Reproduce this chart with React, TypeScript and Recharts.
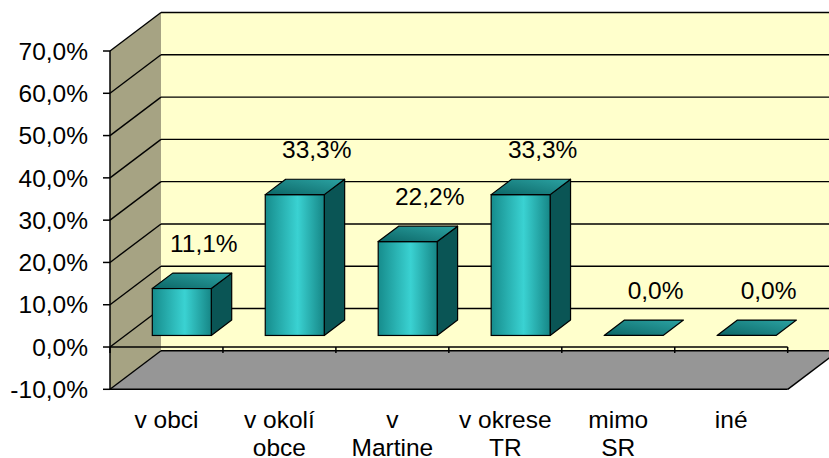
import React from "react";
import {
  ComposedChart,
  Bar,
  XAxis,
  YAxis,
  CartesianGrid,
  ReferenceArea,
  ReferenceLine,
  LabelList,
} from "recharts";

const categories = ["v obci", "v okolí\nobce", "v\nMartine", "v okrese\nTR", "mimo\nSR", "iné"];
const shares = [11.1, 33.3, 22.2, 33.3, 0.0, 0.0];
const yTicks = [-10, 0, 10, 20, 30, 40, 50, 60, 70];

const data = categories.map((name, i) => ({ name, share: shares[i] }));

const FONT = '"Liberation Sans", Arial, sans-serif';
const BACK_WALL = "#FFFFCC";
const SIDE_WALL = "#A6A383";
const FLOOR = "#969696";
const SIDE_FACE = "#0A5555";

// 3D depth vector (front plane -> back wall)
const DX = 51;
const DY = -38.5;
const BAR_OFFSET = 0.3;
const BAR_DEPTH = 0.4;

const fmt = (v: number) => `${v.toFixed(1).replace(".", ",")}%`;

function Walls(props: any) {
  const { x, y, width, height } = props;
  const L = x;
  const T = y;
  const R = x + width;
  const B = y + height;
  return (
    <g>
      <defs>
        <linearGradient id="frontGrad" x1="0" y1="0" x2="1" y2="0">
          <stop offset="0%" stopColor="#168C8C" />
          <stop offset="55%" stopColor="#3AD2D2" />
          <stop offset="100%" stopColor="#168686" />
        </linearGradient>
        <linearGradient id="topGrad" x1="0" y1="1" x2="1" y2="0">
          <stop offset="0%" stopColor="#0C6666" />
          <stop offset="100%" stopColor="#2BA3A3" />
        </linearGradient>
      </defs>
      <rect x={L + DX} y={T + DY} width={width} height={height} fill={BACK_WALL} />
      <polygon
        points={`${L},${T} ${L + DX},${T + DY} ${L + DX},${B + DY} ${L},${B}`}
        fill={SIDE_WALL}
      />
      <polygon
        points={`${L},${B} ${L + DX},${B + DY} ${R + DX},${B + DY} ${R},${B}`}
        fill={FLOOR}
      />
      <line x1={L} y1={B} x2={R} y2={B} stroke="#000" strokeWidth={1.5} />
      <line x1={R} y1={B} x2={R + DX} y2={B + DY} stroke="#000" strokeWidth={1.5} />
    </g>
  );
}

function GridLine(props: any) {
  const { x1, x2, y1 } = props;
  return (
    <g>
      <line x1={x1 + DX} y1={y1 + DY} x2={x2 + DX} y2={y1 + DY} stroke="#000" strokeWidth={1.4} />
      <line x1={x1} y1={y1} x2={x1 + DX} y2={y1 + DY} stroke="#000" strokeWidth={1.4} />
    </g>
  );
}

function CategoryAxisLine(props: any) {
  const { x1, x2, y1 } = props;
  const band = (x2 - x1) / categories.length;
  return (
    <g>
      <line x1={x1} y1={y1} x2={x2} y2={y1} stroke="#000" strokeWidth={1.5} />
      {categories.map((_, i) => (
        <line
          key={i}
          x1={x1 + (i + 1) * band}
          y1={y1}
          x2={x1 + (i + 1) * band}
          y2={y1 + 6}
          stroke="#000"
          strokeWidth={1.5}
        />
      ))}
      <line x1={x1} y1={y1} x2={x1} y2={y1 + 6} stroke="#000" strokeWidth={1.5} />
    </g>
  );
}

function Box3D(props: any) {
  const { x, y, width, height } = props;
  const ox = x + DX * BAR_OFFSET;
  const oy = y + DY * BAR_OFFSET;
  const dx = DX * BAR_DEPTH;
  const dy = DY * BAR_DEPTH;
  const h = Math.max(0, height);
  const top = `${ox},${oy} ${ox + width},${oy} ${ox + width + dx},${oy + dy} ${ox + dx},${oy + dy}`;
  const side = `${ox + width},${oy} ${ox + width + dx},${oy + dy} ${ox + width + dx},${oy + dy + h} ${ox + width},${oy + h}`;
  return (
    <g>
      {h > 0 && (
        <>
          <polygon points={side} fill={SIDE_FACE} stroke="#000" strokeWidth={1.2} strokeLinejoin="round" />
          <rect x={ox} y={oy} width={width} height={h} fill="url(#frontGrad)" stroke="#000" strokeWidth={1.2} />
        </>
      )}
      <polygon points={top} fill="url(#topGrad)" stroke="#000" strokeWidth={1.2} strokeLinejoin="round" />
    </g>
  );
}

function ValueLabel(props: any) {
  const { x, y, width, value } = props;
  const cx = x + DX * BAR_OFFSET + width / 2 + 22;
  const baseline = y + DY * (BAR_OFFSET + BAR_DEPTH) - 21;
  return (
    <text x={cx} y={baseline} textAnchor="middle" fontSize={24.5} fontFamily={FONT} fill="#000">
      {fmt(Number(value))}
    </text>
  );
}

function CategoryTick(props: any) {
  const { x, y, payload } = props;
  const lines = String(payload.value).split("\n");
  return (
    <text x={x} y={y + 38.5} textAnchor="middle" fontSize={24.5} fontFamily={FONT} fill="#000">
      {lines.map((ln, i) => (
        <tspan key={i} x={x} dy={i === 0 ? 0 : 28}>
          {ln}
        </tspan>
      ))}
    </text>
  );
}

export default function App() {
  return (
    <div style={{ position: "absolute", left: 0, top: 0, width: 829, height: 458, background: "#fff" }}>
      <ComposedChart
        width={829}
        height={458}
        data={data}
        margin={{ top: 51, right: 41.3, bottom: 8.7, left: 10 }}
      >
        <ReferenceArea y1={-10} y2={70} shape={Walls} zIndex={-200} ifOverflow="visible" />
        <CartesianGrid vertical={false} horizontal={GridLine} />
        <XAxis
          dataKey="name"
          height={60}
          axisLine={false}
          tickLine={false}
          tickSize={0}
          tickMargin={0}
          interval={0}
          tick={CategoryTick}
        />
        <YAxis
          type="number"
          domain={[-10, 70]}
          ticks={yTicks}
          interval={0}
          width={100}
          tickSize={7}
          tickMargin={15}
          tickFormatter={fmt}
          axisLine={{ stroke: "#000", strokeWidth: 1.5 }}
          tickLine={{ stroke: "#000", strokeWidth: 1.5 }}
          tick={{ fill: "#000", fontSize: 24.5, fontFamily: FONT }}
        />
        <ReferenceLine y={0} shape={CategoryAxisLine} />
        <Bar dataKey="share" barSize={59} shape={Box3D} isAnimationActive={false}>
          <LabelList dataKey="share" content={ValueLabel} />
        </Bar>
      </ComposedChart>
    </div>
  );
}
